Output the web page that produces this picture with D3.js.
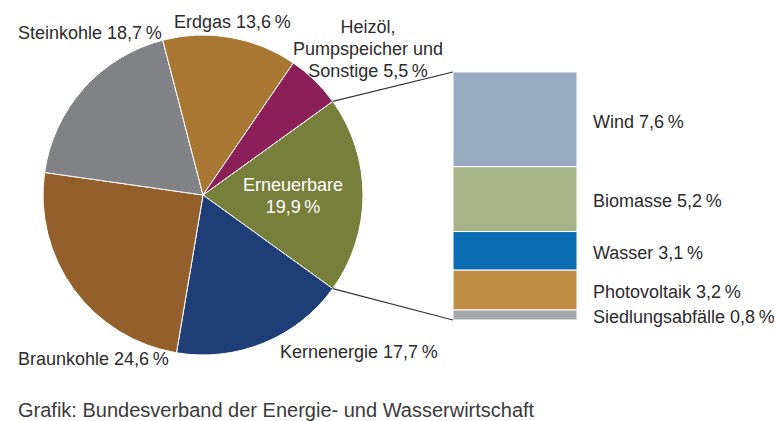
<!DOCTYPE html>
<html>
<head>
<meta charset="utf-8">
<script src="https://cdn.jsdelivr.net/npm/d3@7"></script>
<style>
  body { margin: 0; background: #fff; }
  text { font-family: "Liberation Sans", Arial, sans-serif; }
</style>
</head>
<body>
<div id="plot"></div>
<script>
// Stromerzeugung: main pie
var mainLabels = ["Erneuerbare", "Kernenergie", "Braunkohle", "Steinkohle", "Erdgas", "Heizöl, Pumpspeicher und Sonstige"]
var mainValues = [19.9, 17.7, 24.6, 18.7, 13.6, 5.5]
var mainColors = ["#76803a", "#1f3e78", "#93602b", "#808285", "#a87832", "#8a2057"]

// breakdown of Erneuerbare
var subLabels = ["Wind", "Biomasse", "Wasser", "Photovoltaik", "Siedlungsabfälle"]
var subValues = [7.6, 5.2, 3.1, 3.2, 0.8]
var subColors = ["#99abc3", "#a9b388", "#0b6db3", "#bf8f45", "#a6a7aa"]

var width = 774, height = 421
var cx = 203, cy = 195, radius = 160
var fontSize = 18

var fmt = v => String(v).replace(".", ",") + "\u2009%"

var svg = d3.select("#plot")
  .append("svg")
  .attr("width", width)
  .attr("height", height)

var toRad = deg => deg * Math.PI / 180
// Erneuerbare centered at 3 o'clock
var start = toRad(90) - (mainValues[0] / 100) * Math.PI

var pie = d3.pie()
  .sort(null)
  .value(d => d)
  .startAngle(start)
  .endAngle(start + 2 * Math.PI)

var arcs = pie(mainValues)

var arc = d3.arc()
  .innerRadius(0)
  .outerRadius(radius)

var g = svg.append("g")
  .attr("transform", "translate(" + cx + "," + cy + ")")

g.selectAll("path")
  .data(arcs)
  .enter()
  .append("path")
  .attr("d", arc)
  .attr("fill", (d, i) => mainColors[i])
  .attr("stroke", "#fff")
  .attr("stroke-width", 1)

// stacked bar for Erneuerbare
var barX = 453, barW = 124, barTop = 72, barBottom = 320
var yScale = d3.scaleLinear()
  .domain([0, d3.sum(subValues)])
  .range([barTop, barBottom])

var cum = 0
var stack = subValues.map(v => { var s = cum; cum += v; return [s, cum] })

svg.selectAll("rect.seg")
  .data(stack)
  .enter()
  .append("rect")
  .attr("class", "seg")
  .attr("x", barX)
  .attr("width", barW)
  .attr("y", d => yScale(d[0]))
  .attr("height", d => yScale(d[1]) - yScale(d[0]))
  .attr("fill", (d, i) => subColors[i])
  .attr("stroke", "#fff")
  .attr("stroke-width", 1)

svg.selectAll("text.seg")
  .data(stack)
  .enter()
  .append("text")
  .attr("class", "seg")
  .attr("x", 593)
  .attr("y", d => (yScale(d[0]) + yScale(d[1])) / 2 + 2)
  .attr("dy", "0.35em")
  .attr("font-size", fontSize)
  .attr("fill", "#2b2b2b")
  .text((d, i) => subLabels[i] + " " + fmt(subValues[i]))

// connector lines from the Erneuerbare slice to the bar
var pt = a => [cx + radius * Math.sin(a), cy - radius * Math.cos(a)]
var p1 = pt(arcs[0].startAngle), p2 = pt(arcs[0].endAngle)
svg.append("line")
  .attr("x1", p1[0]).attr("y1", p1[1])
  .attr("x2", barX).attr("y2", barTop)
  .attr("stroke", "#333").attr("stroke-width", 1.2)
svg.append("line")
  .attr("x1", p2[0]).attr("y1", p2[1])
  .attr("x2", barX).attr("y2", barBottom)
  .attr("stroke", "#333").attr("stroke-width", 1.2)

// pie labels
var labelPos = [
  { x: 293, y: 185, anchor: "middle", fill: "#fff", lines: ["Erneuerbare", fmt(mainValues[0])] },
  { x: 280, y: 352, anchor: "start", fill: "#2b2b2b", lines: ["Kernenergie " + fmt(mainValues[1])] },
  { x: 18, y: 359, anchor: "start", fill: "#2b2b2b", lines: ["Braunkohle " + fmt(mainValues[2])] },
  { x: 18, y: 33, anchor: "start", fill: "#2b2b2b", lines: ["Steinkohle " + fmt(mainValues[3])] },
  { x: 174, y: 22, anchor: "start", fill: "#2b2b2b", lines: ["Erdgas " + fmt(mainValues[4])] },
  { x: 368, y: 27, anchor: "middle", fill: "#2b2b2b", lines: ["Heizöl,", "Pumpspeicher und", "Sonstige " + fmt(mainValues[5])] }
]

labelPos.forEach(function (l) {
  var t = svg.append("text")
    .attr("x", l.x)
    .attr("y", l.y)
    .attr("text-anchor", l.anchor)
    .attr("font-size", fontSize)
    .attr("fill", l.fill)
  l.lines.forEach(function (s, i) {
    t.append("tspan")
      .attr("x", l.x)
      .attr("dy", i == 0 ? "0.35em" : 22)
      .text(s)
  })
})

svg.append("text")
  .attr("x", 18)
  .attr("y", 410)
  .attr("dy", "0.35em")
  .attr("font-size", 20)
  .attr("fill", "#3a3a3a")
  .text("Grafik: Bundesverband der Energie- und Wasserwirtschaft")
</script>
</body>
</html>
